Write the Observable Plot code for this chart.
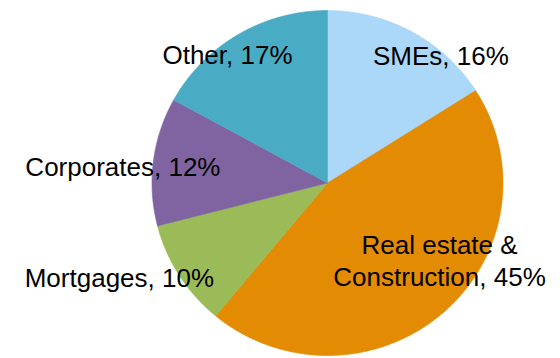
<!DOCTYPE html>
<html>
<head>
<meta charset="utf-8">
<script src="https://cdn.jsdelivr.net/npm/d3@7"></script>
<script src="https://cdn.jsdelivr.net/npm/@observablehq/plot@0.6"></script>
<style>
  html, body { margin: 0; padding: 0; background: #fff; }
  #chart svg { display: block; }
</style>
</head>
<body>
<div id="chart"></div>
<script>
// ---- data ----
const categories = ["SMEs", "Real estate & Construction", "Mortgages", "Corporates", "Other"];
const labelTexts = ["SMEs, 16%", "Real estate &\nConstruction, 45%", "Mortgages, 10%", "Corporates, 12%", "Other, 17%"];
const shares = [16, 45, 10, 12, 17];
const colors = ["#abd7f9", "#e38b02", "#9bbb59", "#8064a2", "#4aabc5"];

// ---- layout (pixels) ----
const W = 560, H = 358;
const cx = 327, cy = 182.5, rx = 175.5, ry = 172.5;
const labelNudge = [[50, -5], [25, 5.5], [-97, 35], [-74, 9.7], [-33, -8]];

// build slices clockwise from 12 o'clock
const total = d3.sum(shares);
const pts = [];
const labels = [];
let acc = 0;
shares.forEach((v, i) => {
  const a0 = acc / total * 2 * Math.PI;
  acc += v;
  const a1 = acc / total * 2 * Math.PI;
  const n = Math.max(2, Math.ceil((a1 - a0) / (Math.PI / 360)));
  pts.push({cat: categories[i], x: 0, y: 0});
  for (let k = 0; k <= n; k++) {
    const a = a0 + (a1 - a0) * k / n;
    pts.push({cat: categories[i], x: Math.sin(a), y: Math.cos(a)});
  }
  pts.push({cat: categories[i], x: 0, y: 0});
  const m = (a0 + a1) / 2;
  labels.push({text: labelTexts[i], x: 0.75 * Math.sin(m), y: 0.75 * Math.cos(m), dx: labelNudge[i][0], dy: labelNudge[i][1]});
});

const chart = Plot.plot({
  width: W,
  height: H,
  margin: 0,
  style: {fontFamily: "Arial, 'Liberation Sans', sans-serif", background: "#fff"},
  x: {domain: [-cx / rx, (W - cx) / rx], axis: null},
  y: {domain: [-(H - cy) / ry, cy / ry], axis: null},
  color: {domain: categories, range: colors},
  marks: [
    Plot.line(pts, {x: "x", y: "y", z: "cat", fill: "cat", stroke: "cat", strokeWidth: 0.6, curve: "linear"}),
    ...labels.map(l => Plot.text([l], {
      x: "x", y: "y", text: "text", dx: l.dx, dy: l.dy,
      textAnchor: "middle", lineAnchor: "bottom", lineHeight: 1.22,
      fontSize: 26, fill: "black"
    }))
  ]
});
document.getElementById("chart").appendChild(chart);
</script>
</body>
</html>
